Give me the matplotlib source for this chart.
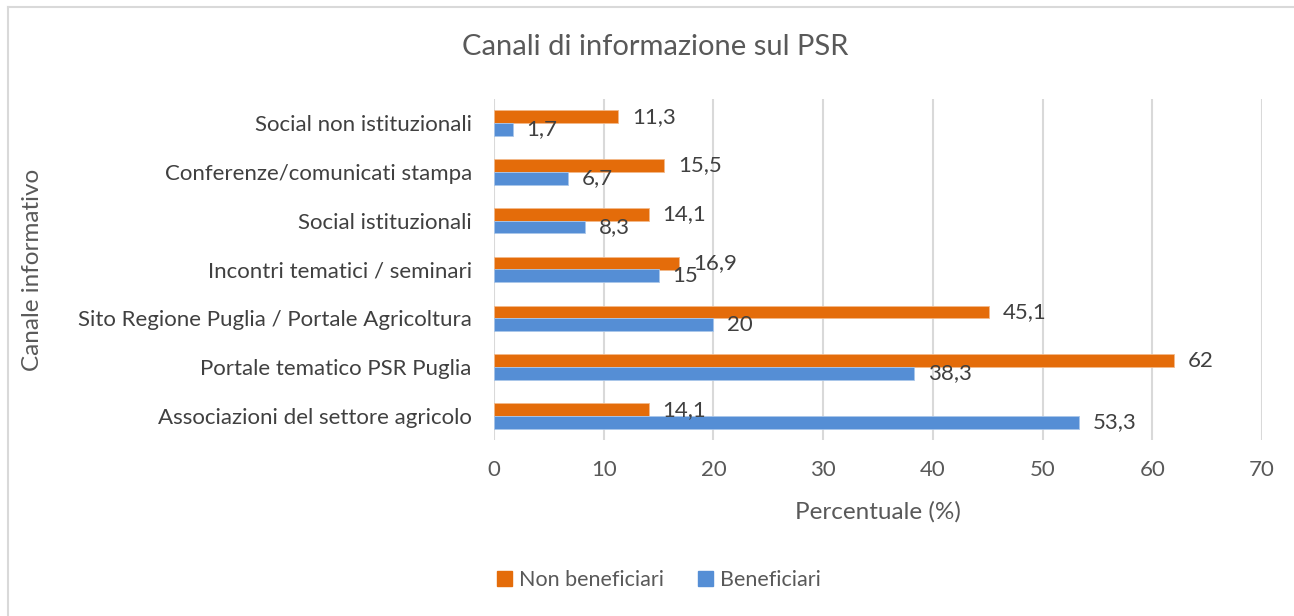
import numpy as np
import matplotlib.pyplot as plt
from matplotlib.patches import Patch
from matplotlib.lines import Line2D

plt.rcParams['font.family'] = ['Lato', 'DejaVu Sans']

# categories bottom -> top (Excel order)
categories = [
    "Associazioni del settore agricolo",
    "Portale tematico PSR Puglia",
    "Sito Regione Puglia / Portale Agricoltura",
    "Incontri tematici / seminari",
    "Social istituzionali",
    "Conferenze/comunicati stampa",
    "Social non istituzionali",
]
beneficiari = [53.3, 38.3, 20, 15, 8.3, 6.7, 1.7]
non_beneficiari = [14.1, 62, 45.1, 16.9, 14.1, 15.5, 11.3]

orange = "#E46C0A"
blue = "#558ED5"
text_col = "#404040"
tick_col = "#595959"

fig = plt.figure(figsize=(12.94, 6.16), dpi=100)
ax = fig.add_axes([494 / 1294, 1 - 440.4 / 616, (1262 - 494) / 1294, (440.4 - 98.6) / 616])

y = np.arange(len(categories))
h = 0.26
b_non = ax.barh(y + h / 2, non_beneficiari, height=h, color=orange,
                edgecolor="#F3B98A", linewidth=0.6, label="Non beneficiari", zorder=3)
b_ben = ax.barh(y - h / 2, beneficiari, height=h, color=blue,
                edgecolor="#A9C6EA", linewidth=0.6, label="Beneficiari", zorder=3)

fmt = lambda v: f"{v:g}".replace(".", ",")
ax.bar_label(b_non, labels=[fmt(v) for v in non_beneficiari], padding=10,
             fontsize=16, color=text_col)
ax.bar_label(b_ben, labels=[fmt(v) for v in beneficiari], padding=10,
             fontsize=16, color=text_col)

ax.set_xlim(0, 70)
ax.set_ylim(-0.5, len(categories) - 0.5)
ax.set_xticks(np.arange(0, 71, 10))
ax.set_yticks(y)
ax.set_yticklabels(categories)
ax.tick_params(axis="both", length=0, labelsize=16, labelcolor=tick_col)
ax.tick_params(axis="y", pad=16, labelcolor=text_col)
ax.tick_params(axis="x", pad=14)
ax.grid(axis="x", color="#D9D9D9", linewidth=1.5, zorder=0)
for s in ax.spines.values():
    s.set_visible(False)

ax.set_xlabel("Percentuale (%)", fontsize=17.5, color=tick_col)
ax.xaxis.set_label_coords(0.5, -(512 - 440.4) / (440.4 - 98.6))
ax.xaxis.label.set_va("center")
ax.set_ylabel("Canale informativo", fontsize=17.5, color=tick_col)
ax.yaxis.set_label_coords((33 - 494) / (1262 - 494), 0.5)
ax.yaxis.label.set_va("center")

fig.text(655 / 1294, 1 - 47 / 616, "Canali di informazione sul PSR", ha="center",
         va="center", fontsize=21, color=tick_col)

handles = [Patch(color=orange, label="Non beneficiari"), Patch(color=blue, label="Beneficiari")]
fig.legend(handles=handles, loc="center", bbox_to_anchor=(659 / 1294, 1 - 580 / 616),
           ncol=2, frameon=False, fontsize=15.5, labelcolor=tick_col,
           handlelength=0.7, handleheight=0.7, handletextpad=0.3, columnspacing=1.6)

# chart area border (left and top visible)
fig.add_artist(Line2D([7.5 / 1294, 7.5 / 1294], [0, 1 - 6.5 / 616], color="#D9D9D9", lw=1.5))
fig.add_artist(Line2D([7.5 / 1294, 1], [1 - 6.5 / 616, 1 - 6.5 / 616], color="#D9D9D9", lw=1.5))

fig.savefig("out.png", dpi=100)
